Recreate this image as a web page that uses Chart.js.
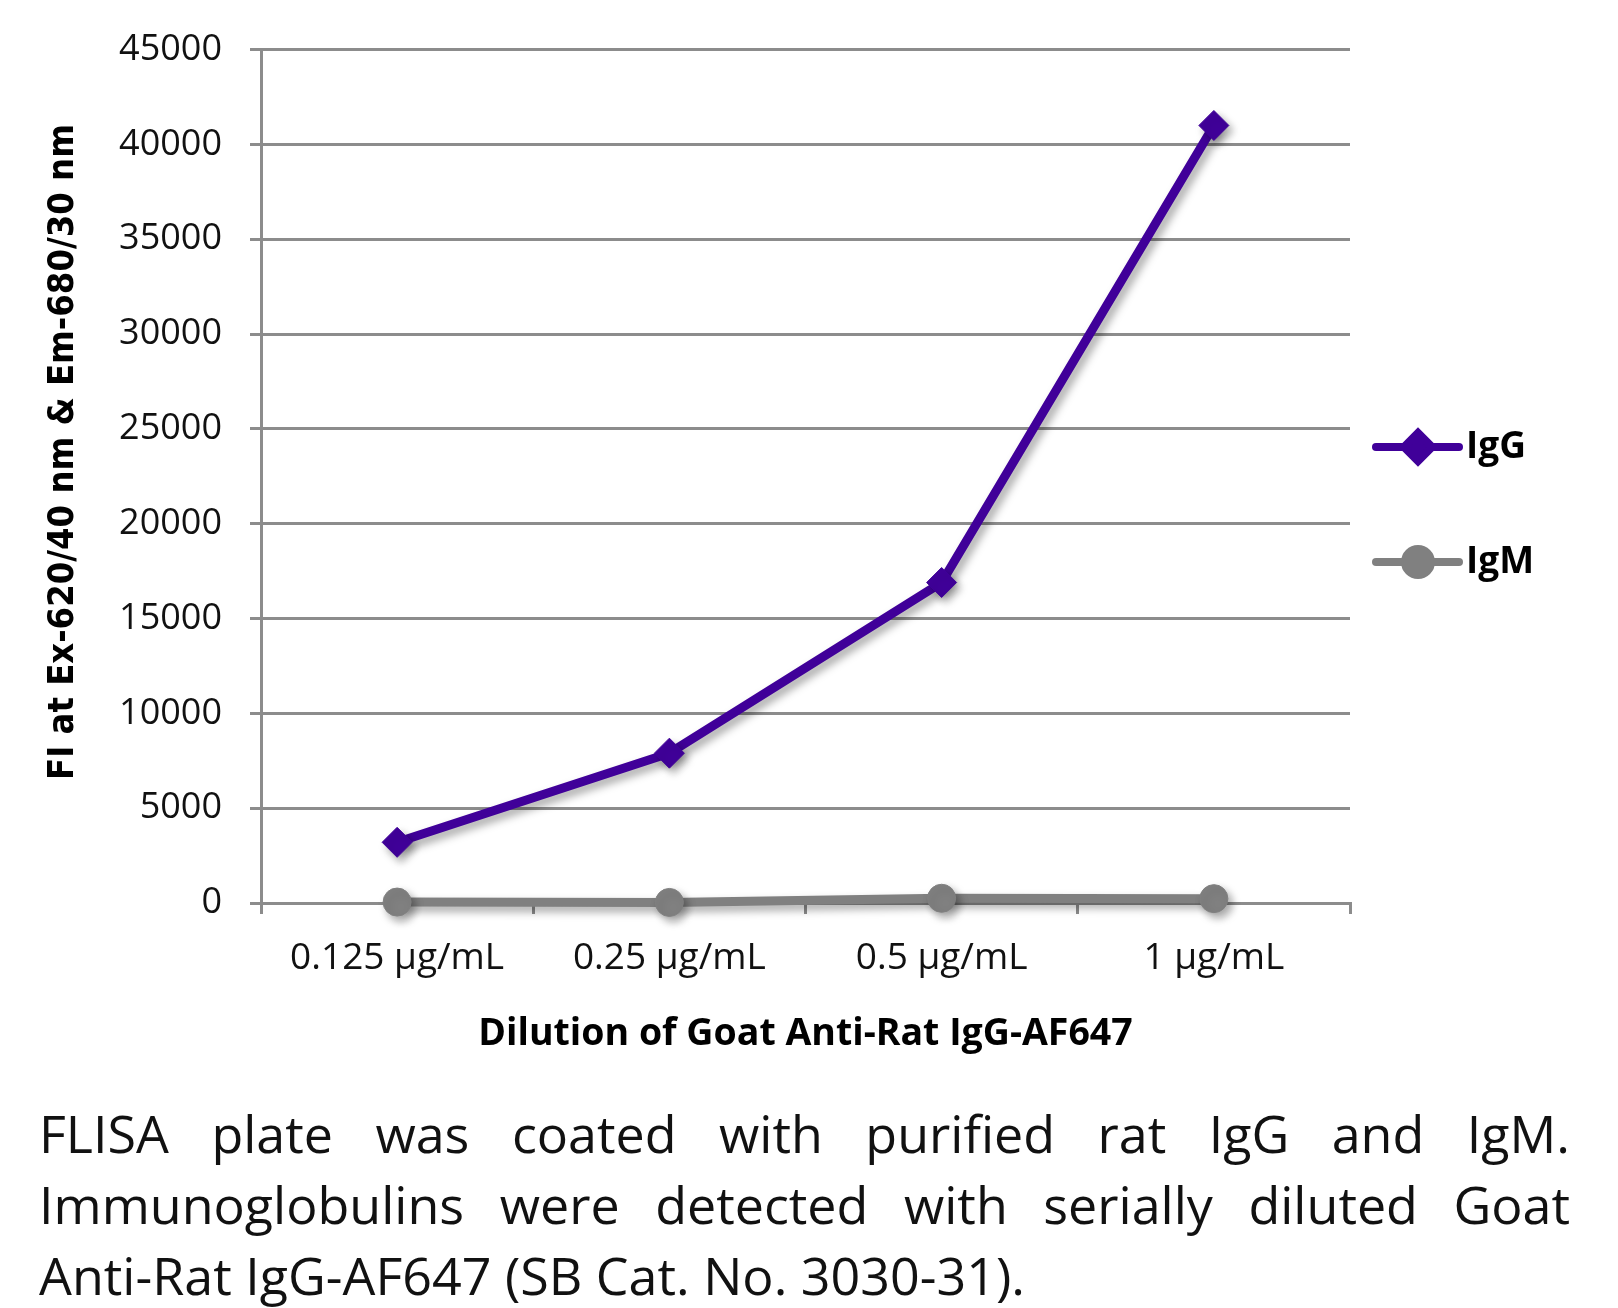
<!DOCTYPE html>
<html>
<head>
<meta charset="utf-8">
<script src="https://cdn.jsdelivr.net/npm/chart.js@4.4.1/dist/chart.umd.min.js"></script>
<style>
  html, body { margin: 0; padding: 0; background: #fff; }
  #wrap { position: relative; width: 1618px; height: 1080px; }
  #caption {
    position: absolute; left: 39px; top: 1097px; width: 1531px;
    font-family: "Open Sans", sans-serif; font-size: 52px; line-height: 71px; color: #111;
  }
  #caption div { text-align: justify; text-align-last: justify; white-space: nowrap; }
  #caption div.last { text-align-last: left; }
</style>
</head>
<body>
<div id="wrap"><canvas id="chart" width="1618" height="1080"></canvas></div>
<div id="caption">
  <div>FLISA plate was coated with purified rat IgG and IgM.</div>
  <div>Immunoglobulins were detected with serially diluted Goat</div>
  <div class="last">Anti-Rat IgG-AF647 (SB Cat. No. 3030-31).</div>
</div>
<script>
// --- données ---
const categories = ['0.125 µg/mL', '0.25 µg/mL', '0.5 µg/mL', '1 µg/mL'];
const igG = [3200, 7900, 16900, 41000];
const igM = [50, 30, 250, 230];
const yTicks = [0, 5000, 10000, 15000, 20000, 25000, 30000, 35000, 40000, 45000];
const yTitle = 'FI at Ex-620/40 nm & Em-680/30 nm';

const GRID = '#8c8c8c';
const PURPLE = '#400099';
const GREY = '#808080';

// ombre portée sous les courbes
const shadowPlugin = {
    id: 'shadow',
    beforeDatasetsDraw(chart) {
        const ctx = chart.ctx;
        ctx.save();
        ctx.shadowColor = 'rgba(0,0,0,0.35)';
        ctx.shadowBlur = 8;
        ctx.shadowOffsetX = 4;
        ctx.shadowOffsetY = 5;
    },
    afterDatasetsDraw(chart) {
        chart.ctx.restore();
    }
};

// titre vertical, un peu au-dessus du centre comme dans l'original
const yTitlePlugin = {
    id: 'yTitle',
    afterDraw(chart) {
        const ctx = chart.ctx;
        ctx.save();
        ctx.translate(64, 452);
        ctx.rotate(-Math.PI / 2);
        ctx.fillStyle = '#000';
        ctx.font = 'bold 36px "DejaVu Sans Condensed", "DejaVu Sans", sans-serif';
        ctx.textAlign = 'center';
        ctx.textBaseline = 'middle';
        ctx.fillText(yTitle, 0, 0);
        ctx.restore();
    }
};

// légende à droite : trait + marqueur + libellé
const legendPlugin = {
    id: 'sideLegend',
    afterDraw(chart) {
        const ctx = chart.ctx;
        const x0 = chart.chartArea.right + 26;
        const rows = [447, 562];
        chart.data.datasets.forEach((ds, i) => {
            const y = rows[i];
            ctx.save();
            ctx.strokeStyle = ds.borderColor;
            ctx.lineWidth = 8;
            ctx.lineCap = 'round';
            ctx.beginPath();
            ctx.moveTo(x0, y);
            ctx.lineTo(x0 + 83, y);
            ctx.stroke();
            ctx.fillStyle = ds.pointBackgroundColor;
            ctx.strokeStyle = ds.pointBackgroundColor;
            Chart.helpers.drawPoint(ctx, {
                pointStyle: ds.pointStyle, radius: ds.pointStyle === 'circle' ? 13 : 14,
                rotation: 0, borderWidth: 1
            }, x0 + 42, y);
            ctx.fillStyle = '#000';
            ctx.font = 'bold 37px "Open Sans", sans-serif';
            ctx.textBaseline = 'middle';
            ctx.fillText(ds.label, x0 + 90, y);
            ctx.restore();
        });
    }
};

new Chart(document.getElementById('chart'), {
    type: 'line',
    data: {
        labels: categories,
        datasets: [{
            label: 'IgG',
            data: igG,
            borderColor: PURPLE,
            backgroundColor: PURPLE,
            pointBackgroundColor: PURPLE,
            pointBorderColor: PURPLE,
            borderWidth: 9,
            pointStyle: 'rectRot',
            pointRadius: 15,
            pointBorderWidth: 1,
            tension: 0,
            clip: false
        }, {
            label: 'IgM',
            data: igM,
            borderColor: GREY,
            backgroundColor: GREY,
            pointBackgroundColor: GREY,
            pointBorderColor: GREY,
            borderWidth: 9,
            pointStyle: 'circle',
            pointRadius: 14,
            pointBorderWidth: 1,
            tension: 0,
            clip: false
        }]
    },
    options: {
        responsive: false,
        animation: false,
        layout: { padding: { top: 44, right: 268, left: 0, bottom: 0 } },
        plugins: { legend: { display: false }, tooltip: { enabled: false } },
        scales: {
            x: {
                offset: true,
                grid: { offset: true, drawOnChartArea: false, drawTicks: true, tickLength: 11, color: GRID, lineWidth: 3 },
                border: { color: GRID, width: 3 },
                ticks: { color: '#111', padding: 22, font: { family: 'Open Sans', size: 37 } },
                title: {
                    display: true, text: 'Dilution of Goat Anti-Rat IgG-AF647', color: '#000',
                    font: { family: 'Open Sans', size: 37.5, weight: 'bold' }, padding: { top: 10, bottom: 23 }
                },
                afterFit(scale) { scale.height = 177; }
            },
            y: {
                min: 0, max: 45000,
                afterBuildTicks(scale) { scale.ticks = yTicks.map(v => ({ value: v })); },
                grid: { color: GRID, lineWidth: 3, tickLength: 11 },
                border: { color: GRID, width: 3 },
                ticks: { color: '#111', padding: 28, font: { family: 'Open Sans', size: 36 }, callback: v => String(v) },
                title: { display: false },
                afterFit(scale) { scale.width = 261; }
            }
        }
    },
    plugins: [shadowPlugin, yTitlePlugin, legendPlugin]
});
</script>
</body>
</html>
